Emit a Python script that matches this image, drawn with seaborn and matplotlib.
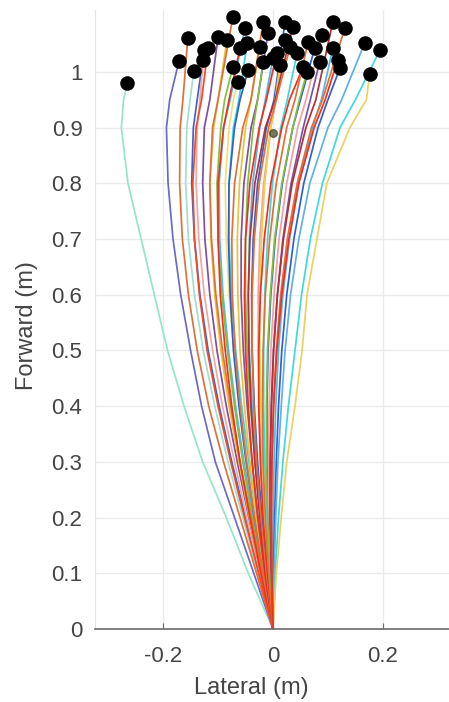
import numpy as np
import pandas as pd
import seaborn as sns
import matplotlib.pyplot as plt

forward_levels = [0.0, 0.1, 0.2, 0.3, 0.4, 0.5, 0.6, 0.7, 0.8, 0.9, 0.95]

# lateral offset (m) of each trajectory at the forward levels above
lateral = [
    [0, -0.045, -0.085, -0.128, -0.162, -0.192, -0.216, -0.240, -0.264, -0.276, -0.272],
    [0, -0.035, -0.070, -0.105, -0.130, -0.150, -0.168, -0.182, -0.191, -0.194, -0.188],
    [0, -0.030, -0.060, -0.090, -0.117, -0.138, -0.154, -0.165, -0.170, -0.169, -0.164],
    [0, -0.028, -0.055, -0.082, -0.106, -0.127, -0.143, -0.154, -0.159, -0.157, -0.151],
    [0, -0.025, -0.050, -0.075, -0.098, -0.118, -0.133, -0.143, -0.148, -0.145, -0.138],
    [0, -0.026, -0.052, -0.077, -0.100, -0.120, -0.134, -0.143, -0.146, -0.140, -0.130],
    [0, -0.024, -0.048, -0.070, -0.092, -0.110, -0.125, -0.135, -0.140, -0.138, -0.133],
    [0, -0.022, -0.044, -0.065, -0.085, -0.102, -0.115, -0.124, -0.128, -0.125, -0.115],
    [0, -0.020, -0.040, -0.060, -0.077, -0.092, -0.104, -0.112, -0.115, -0.110, -0.100],
    [0, -0.022, -0.043, -0.062, -0.080, -0.095, -0.106, -0.113, -0.115, -0.108, -0.100],
    [0, -0.018, -0.036, -0.053, -0.068, -0.081, -0.091, -0.097, -0.098, -0.090, -0.078],
    [0, -0.020, -0.038, -0.055, -0.070, -0.083, -0.093, -0.100, -0.102, -0.095, -0.088],
    [0, -0.016, -0.032, -0.047, -0.060, -0.071, -0.080, -0.085, -0.087, -0.080, -0.072],
    [0, -0.022, -0.042, -0.060, -0.075, -0.087, -0.096, -0.100, -0.100, -0.090, -0.080],
    [0, -0.015, -0.030, -0.044, -0.057, -0.068, -0.076, -0.080, -0.080, -0.072, -0.062],
    [0, -0.018, -0.034, -0.049, -0.062, -0.072, -0.078, -0.081, -0.080, -0.070, -0.060],
    [0, -0.018, -0.034, -0.048, -0.060, -0.069, -0.074, -0.075, -0.070, -0.055, -0.040],
    [0, -0.014, -0.027, -0.038, -0.047, -0.054, -0.058, -0.058, -0.053, -0.040, -0.028],
    [0, -0.016, -0.030, -0.042, -0.052, -0.060, -0.064, -0.065, -0.061, -0.050, -0.040],
    [0, -0.012, -0.023, -0.033, -0.041, -0.047, -0.050, -0.050, -0.046, -0.036, -0.028],
    [0, -0.012, -0.022, -0.031, -0.038, -0.043, -0.045, -0.043, -0.037, -0.024, -0.014],
    [0, -0.015, -0.028, -0.038, -0.045, -0.050, -0.052, -0.050, -0.042, -0.025, -0.012],
    [0, -0.010, -0.020, -0.028, -0.034, -0.038, -0.039, -0.036, -0.028, -0.012, 0.002],
    [0, -0.013, -0.024, -0.033, -0.040, -0.044, -0.045, -0.042, -0.033, -0.014, 0.004],
    [0, -0.008, -0.015, -0.021, -0.025, -0.027, -0.027, -0.024, -0.017, -0.004, 0.006],
    [0, -0.012, -0.022, -0.030, -0.035, -0.038, -0.038, -0.034, -0.025, -0.008, 0.006],
    [0, -0.008, -0.014, -0.019, -0.022, -0.024, -0.024, -0.021, -0.015, -0.004, 0.004],
    [0, -0.006, -0.011, -0.015, -0.017, -0.017, -0.015, -0.010, -0.001, 0.014, 0.026],
    [0, -0.010, -0.018, -0.023, -0.026, -0.026, -0.023, -0.016, -0.004, 0.016, 0.030],
    [0, -0.008, -0.014, -0.018, -0.019, -0.018, -0.014, -0.006, 0.006, 0.025, 0.040],
    [0, -0.005, -0.009, -0.011, -0.011, -0.009, -0.004, 0.004, 0.017, 0.036, 0.050],
    [0, -0.004, -0.007, -0.008, -0.007, -0.004, 0.002, 0.011, 0.025, 0.045, 0.060],
    [0, -0.003, -0.005, -0.005, -0.003, 0.001, 0.008, 0.018, 0.033, 0.055, 0.068],
    [0, -0.006, -0.010, -0.012, -0.012, -0.010, -0.005, 0.003, 0.016, 0.036, 0.048],
    [0, -0.003, -0.005, -0.005, -0.003, 0.001, 0.008, 0.019, 0.035, 0.060, 0.078],
    [0, -0.002, -0.003, -0.002, 0.001, 0.006, 0.014, 0.026, 0.044, 0.070, 0.090],
    [0, 0.000, 0.000, 0.002, 0.005, 0.010, 0.018, 0.030, 0.047, 0.072, 0.088],
    [0, -0.002, -0.003, -0.002, 0.001, 0.007, 0.016, 0.029, 0.047, 0.075, 0.095],
    [0, 0.001, 0.003, 0.006, 0.010, 0.016, 0.025, 0.038, 0.056, 0.082, 0.100],
    [0, 0.002, 0.005, 0.009, 0.015, 0.022, 0.032, 0.047, 0.067, 0.100, 0.125],
    [0, 0.004, 0.010, 0.018, 0.028, 0.040, 0.052, 0.068, 0.090, 0.122, 0.150],
    [0, 0.006, 0.015, 0.025, 0.040, 0.053, 0.062, 0.080, 0.098, 0.140, 0.170],
]

# final positions (black dots)
end_lateral = [-0.265, -0.171, -0.155, -0.144, -0.125, -0.118, -0.127, -0.100,
               -0.073, -0.084, -0.051, -0.073, -0.064, -0.060, -0.047, -0.045,
               -0.018, -0.009, -0.024, -0.018, 0.000, 0.007, 0.022, 0.036,
               0.022, 0.031, 0.013, 0.044, 0.055, 0.064, 0.076, 0.089,
               0.085, 0.062, 0.109, 0.131, 0.109, 0.118, 0.122, 0.167,
               0.195, 0.176]
end_forward = [0.980, 1.020, 1.061, 1.002, 1.040, 1.043, 1.022, 1.063,
               1.099, 1.057, 1.079, 1.009, 0.982, 1.043, 1.052, 1.004,
               1.090, 1.070, 1.045, 1.018, 1.025, 1.034, 1.090, 1.081,
               1.057, 1.045, 1.013, 1.034, 1.009, 1.054, 1.043, 1.066,
               1.018, 1.000, 1.090, 1.079, 1.043, 1.022, 1.007, 1.052,
               1.040, 0.996]

line_colors = ['#95e6c4', '#6a6ac8', '#e0703a', '#9fe0d0', '#3a66d0', '#f04a2a',
               '#f0a8a0', '#8050a0', '#e0703a', '#e8c43a', '#50b8e8', '#80c040',
               '#f0e070', '#f03020', '#40d0e0', '#3060d0', '#e0703a', '#8050a0',
               '#e8c43a', '#80c040', '#50b8e8', '#f03020', '#3060d0', '#b03040',
               '#f0a0a0', '#e0703a', '#f0d040', '#40d8e0', '#f03020', '#e0703a',
               '#3060d0', '#f0a0a0', '#8050a0', '#80c040', '#b03040', '#e0703a',
               '#50b8e8', '#f03020', '#3060d0', '#60b0e8', '#40d8e0', '#ecd060']

# a short trajectory that stopped early
stop_lateral = [0.0]
stop_forward = [0.89]

rows = []
for i, xs in enumerate(lateral):
    for x, y in zip(xs, forward_levels):
        rows.append((i, x, y))
    rows.append((i, end_lateral[i], end_forward[i]))
df = pd.DataFrame(rows, columns=['traj', 'lateral', 'forward'])
ends = pd.DataFrame({'lateral': end_lateral, 'forward': end_forward})

# red / orange runs drawn last so they sit on top near the origin
warm = {'#e0703a', '#f04a2a', '#f03020', '#b03040'}
order = [i for i, c in enumerate(line_colors) if c not in warm] + \
        [i for i, c in enumerate(line_colors) if c in warm]
palette = {i: c for i, c in enumerate(line_colors)}

sns.set_style('white')
plt.rcParams['font.family'] = ['Liberation Sans', 'DejaVu Sans']

fig = plt.figure(figsize=(4.49, 7.02), dpi=100)
ax = fig.add_axes([95 / 449, 73 / 702, 356 / 449, 619 / 702])

sns.lineplot(data=df, x='lateral', y='forward', hue='traj', hue_order=order,
             palette=palette, estimator=None, sort=False, legend=False,
             linewidth=1.25, ax=ax)
sns.scatterplot(data=ends, x='lateral', y='forward', color='black', s=110,
                edgecolor='black', linewidth=0, zorder=5, ax=ax)
ax.scatter(stop_lateral, stop_forward, s=30, color='#404020', alpha=0.7, zorder=4)

ax.set_xlim(-0.324, 0.324)
ax.set_ylim(0, 1.111)
ax.set_xticks([-0.2, 0, 0.2])
ax.set_xticklabels(['-0.2', '0', '0.2'])
ax.set_yticks(np.arange(0, 1.01, 0.1))
ax.set_yticklabels(['0', '0.1', '0.2', '0.3', '0.4', '0.5', '0.6', '0.7', '0.8', '0.9', '1'])
ax.grid(True, color='#ebebeb', linewidth=1)
ax.set_axisbelow(True)

for side in ['top', 'right']:
    ax.spines[side].set_visible(False)
ax.spines['left'].set_color('#e4e4e4')
ax.spines['bottom'].set_color('#6a6a6a')
ax.spines['bottom'].set_linewidth(1.2)

ax.tick_params(axis='x', direction='in', length=4, color='#6a6a6a', pad=12,
               labelsize=16, labelcolor='#444444', bottom=True)
ax.tick_params(axis='y', length=0, pad=9, labelsize=16, labelcolor='#444444')

ax.set_xlabel('Lateral (m)', fontsize=17, color='#444444')
ax.set_ylabel('Forward (m)', fontsize=17, color='#444444')
ax.xaxis.set_label_coords(0.438, -0.078)
ax.yaxis.set_label_coords(-0.16, 0.49)

fig.savefig('out.png', dpi=100)
